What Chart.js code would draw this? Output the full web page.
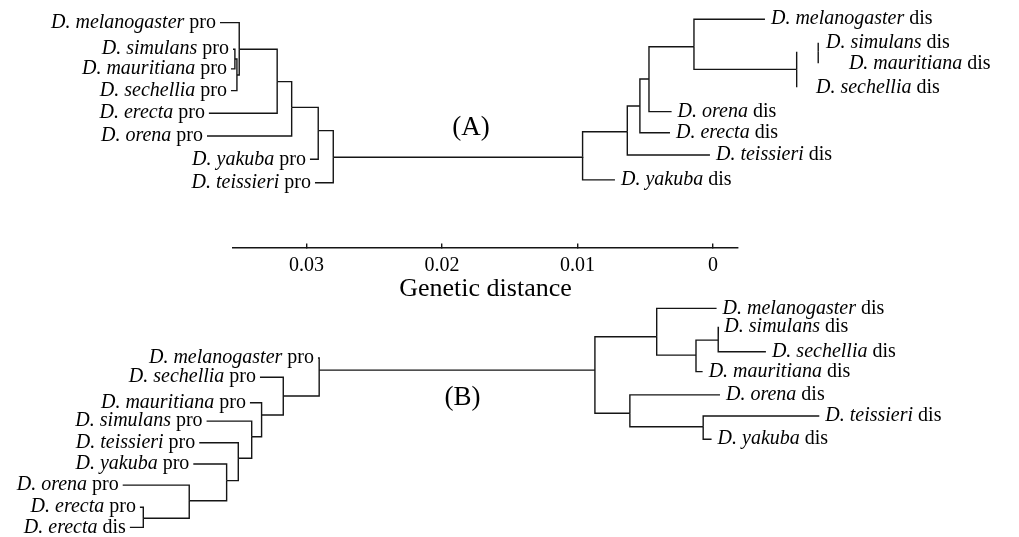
<!DOCTYPE html>
<html>
<head>
<meta charset="utf-8">
<script src="https://cdn.jsdelivr.net/npm/chart.js@4/dist/chart.umd.min.js"></script>
<style>
  body { margin: 0; background: #fff; }
  canvas { display: block; }
</style>
</head>
<body>
<canvas id="tree" width="1019" height="537"></canvas>
<script>
// genetic distance axis
const tickValues = [0.03, 0.02, 0.01, 0];
const axisRow = 11.07;

// nodes: [id, parent, distance, row, species, suffix]
const treeAPro = [
  ['aP', 'aD', 0.02802, 7.03],
  ['aY', 'aP', 0.02913, 5.84],
  ['aTei', 'aP', 0.02937, 8.17, 'D. teissieri', 'pro'],
  ['aO', 'aY', 0.03109, 4.80],
  ['aYak', 'aY', 0.02974, 7.12, 'D. yakuba', 'pro'],
  ['aE', 'aO', 0.03216, 3.65],
  ['aOre', 'aO', 0.03734, 6.08, 'D. orena', 'pro'],
  ['aM', 'aE', 0.03496, 2.20],
  ['aEre', 'aE', 0.03720, 5.06, 'D. erecta', 'pro'],
  ['aMel', 'aM', 0.03638, 1.01, 'D. melanogaster', 'pro'],
  ['aS', 'aM', 0.03513, 3.35],
  ['aSec', 'aS', 0.03557, 4.05, 'D. sechellia', 'pro'],
  ['aSM', 'aS', 0.03528, 2.64],
  ['aSim', 'aSM', 0.03542, 2.20, 'D. simulans', 'pro'],
  ['aMau', 'aSM', 0.03557, 3.08, 'D. mauritiana', 'pro']
];

const treeADis = [
  ['aD', null, 0.00962, 7.0],
  ['aD1', 'aD', 0.00632, 5.89],
  ['aYakD', 'aD', 0.00723, 8.04, 'D. yakuba', 'dis'],
  ['aD2', 'aD1', 0.00539, 4.74],
  ['aTeiD', 'aD1', 0.00022, 6.93, 'D. teissieri', 'dis'],
  ['aD3', 'aD2', 0.00472, 3.53],
  ['aEreD', 'aD2', 0.00317, 5.93, 'D. erecta', 'dis'],
  ['aD4', 'aD3', 0.00140, 2.09],
  ['aOreD', 'aD3', 0.00305, 4.99, 'D. orena', 'dis'],
  ['aMelD', 'aD4', -0.00384, 0.86, 'D. melanogaster', 'dis'],
  ['aD5', 'aD4', -0.00618, 3.10],
  ['aSecD', 'aD5', -0.00716, 3.90, 'D. sechellia', 'dis'],
  ['aD6', 'aD5', -0.00777, 2.31],
  ['aSimD', 'aD6', -0.00790, 1.91, 'D. simulans', 'dis'],
  ['aMauD', 'aD6', -0.00959, 2.83, 'D. mauritiana', 'dis']
];

const treeBPro = [
  ['bP', 'bD', 0.02906, 16.54],
  ['bMel', 'bP', 0.02915, 16.00, 'D. melanogaster', 'pro'],
  ['b1', 'bP', 0.03171, 17.70],
  ['bSec', 'b1', 0.03343, 16.86, 'D. sechellia', 'pro'],
  ['b2', 'b1', 0.03331, 18.55],
  ['bMau', 'b2', 0.03417, 18.00, 'D. mauritiana', 'pro'],
  ['b3', 'b2', 0.03404, 19.52],
  ['bSim', 'b3', 0.03737, 18.82, 'D. simulans', 'pro'],
  ['b4', 'b3', 0.03503, 20.48],
  ['bTei', 'b4', 0.03791, 19.79, 'D. teissieri', 'pro'],
  ['b5', 'b4', 0.03589, 21.48],
  ['bYak', 'b5', 0.03835, 20.74, 'D. yakuba', 'pro'],
  ['b6', 'b5', 0.03865, 22.38],
  ['bOre', 'b6', 0.04356, 21.68, 'D. orena', 'pro'],
  ['b7', 'b6', 0.04204, 23.16],
  ['bEre', 'b7', 0.04229, 22.67, 'D. erecta', 'pro'],
  ['bEreD', 'b7', 0.04303, 23.57, 'D. erecta', 'dis']
];

const treeBDis = [
  ['bD', null, 0.00871, 16.54],
  ['c1', 'bD', 0.00415, 15.05],
  ['bMelD', 'c1', -0.00027, 13.78, 'D. melanogaster', 'dis'],
  ['c2', 'c1', 0.00125, 15.87],
  ['c3', 'c2', -0.00039, 15.20],
  ['bSimD', 'c3', -0.00040, 14.60, 'D. simulans', 'dis'],
  ['bSecD', 'c3', -0.00391, 15.72, 'D. sechellia', 'dis'],
  ['bMauD', 'c2', 0.00076, 16.61, 'D. mauritiana', 'dis'],
  ['c4', 'bD', 0.00613, 18.47],
  ['bOreD', 'c4', -0.00052, 17.65, 'D. orena', 'dis'],
  ['c5', 'c4', 0.00072, 19.07],
  ['bTeiD', 'c5', -0.00785, 18.59, 'D. teissieri', 'dis'],
  ['bYakD', 'c5', 0.00010, 19.63, 'D. yakuba', 'dis']
];

const panelTags = [['(A)', 0.01786, 5.72], ['(B)', 0.01849, 17.79]];

const serif = '"Liberation Serif", "Times New Roman", serif';
const ink = '#151515';

// one elbow per branch: tip -> parent's x -> parent's row
const allNodes = treeAPro.concat(treeADis, treeBPro, treeBDis);
const byId = {};
allNodes.forEach(n => { byId[n[0]] = n; });
const datasets = allNodes.filter(n => n[1]).map(n => {
  const p = byId[n[1]];
  return {
    data: [{x: n[2], y: n[3]}, {x: p[2], y: n[3]}, {x: p[2], y: p[3]}],
    showLine: true,
    borderColor: ink,
    borderWidth: 1.4,
    pointRadius: 0,
    clip: false
  };
});

const labelPlugin = {
  id: 'treeLabels',
  afterDatasetsDraw(chart) {
    const {ctx, scales: {x, y}} = chart;
    ctx.save();
    ctx.fillStyle = '#000';
    ctx.textBaseline = 'middle';
    ctx.textAlign = 'left';
    const italic = 'italic 20px ' + serif;
    const roman = '20px ' + serif;
    function put(nodes, leftSide) {
      nodes.filter(n => n[4]).forEach(n => {
        const px = x.getPixelForValue(n[2]);
        const py = y.getPixelForValue(n[3]);
        ctx.font = italic;
        const wi = ctx.measureText(n[4]).width;
        ctx.font = roman;
        const tail = ' ' + n[5];
        const wt = ctx.measureText(tail).width;
        const start = leftSide ? px - 4 - wi - wt : px + 6;
        ctx.font = italic;
        ctx.fillText(n[4], start, py);
        ctx.font = roman;
        ctx.fillText(tail, start + wi, py);
      });
    }
    put(treeAPro, true);
    put(treeBPro, true);
    put(treeADis, false);
    put(treeBDis, false);

    ctx.font = '27px ' + serif;
    ctx.textAlign = 'center';
    panelTags.forEach(t => {
      ctx.fillText(t[0], x.getPixelForValue(t[1]), y.getPixelForValue(t[2]));
    });
    ctx.restore();
  }
};

new Chart(document.getElementById('tree'), {
  type: 'scatter',
  data: { datasets: datasets },
  options: {
    responsive: false,
    devicePixelRatio: 1,
    animation: false,
    events: [],
    layout: { padding: { left: 233, right: 281, top: 0, bottom: 0 } },
    plugins: {
      legend: { display: false },
      tooltip: { enabled: false }
    },
    scales: {
      x: {
        type: 'linear',
        reverse: true,
        min: -0.00185,
        max: 0.03542,
        position: { y: axisRow },
        afterBuildTicks: scale => {
          scale.ticks = tickValues.map(v => ({ value: v }));
        },
        border: { display: true, color: ink, width: 1.4 },
        grid: { drawOnChartArea: false, drawTicks: true, tickLength: -5, color: ink, lineWidth: 1.4 },
        ticks: {
          color: '#000',
          padding: 11,
          maxRotation: 0,
          font: { family: serif, size: 20 },
          callback: v => v === 0 ? '0' : v.toFixed(2)
        },
        title: {
          display: true,
          text: 'Genetic distance',
          color: '#000',
          font: { family: serif, size: 26 },
          padding: { top: -15, bottom: 0 }
        }
      },
      y: {
        type: 'linear',
        reverse: true,
        min: 0,
        max: 24,
        display: false
      }
    }
  },
  plugins: [labelPlugin]
});
</script>
</body>
</html>
